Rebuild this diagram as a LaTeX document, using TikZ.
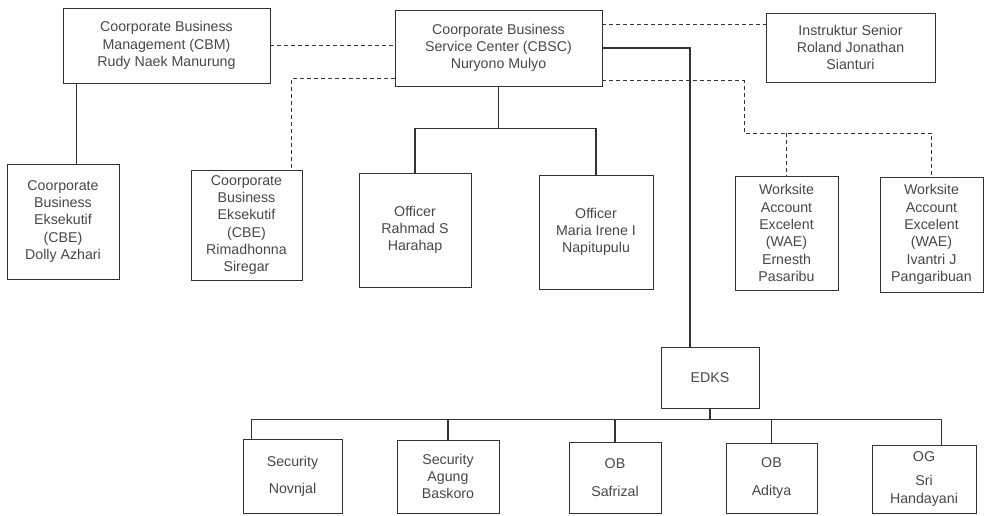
\documentclass[tikz,border=0pt]{standalone}
\usepackage{fontspec}
\setmainfont{Liberation Sans}
\usetikzlibrary{positioning,calc}
\colorlet{inkgray}{black!72}
\colorlet{linegray}{black!80}
\newcommand{\orgfont}{\fontsize{14.2}{17.3}\selectfont}
\tikzstyle{box}=[draw=linegray,line width=.8pt,rectangle,align=center,inner sep=2pt,font=\orgfont,text=inkgray]
\tikzstyle{solidline}=[draw=linegray,line width=1.3pt]
\tikzstyle{dashline}=[draw=linegray,line width=.9pt,dash pattern=on 4pt off 3pt]

\begin{document}
\begin{tikzpicture}[x=1pt,y=-1pt]
  \useasboundingbox (0,0) rectangle (986,515);

  \node[box, minimum width=207pt, minimum height=75pt] (cbm) at (166.5,45.5)
    {Coorporate Business\\Management (CBM)\\Rudy Naek Manurung};
  \node[box, minimum width=207pt, minimum height=76pt] (cbsc) at (498.5,48)
    {Coorporate Business\\Service Center (CBSC)\\Nuryono Mulyo};
  \node[box, minimum width=169pt, minimum height=69pt] (ins) at (850.5,47.5)
    {Instruktur Senior\\Roland Jonathan\\Sianturi};

  \node[box, minimum width=112pt, minimum height=115pt] (cbe1) at (63,221.5)
    {Coorporate\\Business\\Eksekutif\\(CBE)\\Dolly Azhari};
  \node[box, minimum width=111pt, minimum height=110pt] (cbe2) at (246.5,225)
    {Coorporate\\Business\\Eksekutif\\(CBE)\\Rimadhonna\\Siregar};
  \node[box, minimum width=112pt, minimum height=114pt] (off1) at (415,230)
    {Officer\\Rahmad S\\Harahap};
  \node[box, minimum width=114pt, minimum height=114pt] (off2) at (596,232)
    {Officer\\Maria Irene I\\Napitupulu};
  \node[box, minimum width=103pt, minimum height=114pt] (wae1) at (786.5,233)
    {Worksite\\Account\\Excelent\\(WAE)\\Ernesth\\Pasaribu};
  \node[box, minimum width=103pt, minimum height=115pt] (wae2) at (931.5,234.5)
    {Worksite\\Account\\Excelent\\(WAE)\\Ivantri J\\Pangaribuan};

  \node[box, minimum width=98pt, minimum height=61pt] (edks) at (710,377.5) {EDKS};

  \node[box, minimum width=99pt, minimum height=74pt] (sec1) at (292.5,476)
    {Security\\[10pt]Novnjal};
  \node[box, minimum width=102pt, minimum height=73pt] (sec2) at (448,476.5)
    {Security\\Agung\\Baskoro};
  \node[box, minimum width=92pt, minimum height=71pt] (ob1) at (615,477.5)
    {OB\\[10pt]Safrizal};
  \node[box, minimum width=91pt, minimum height=70pt] (ob2) at (771.5,478)
    {OB\\[10pt]Aditya};
  \node[box, minimum width=104pt, minimum height=68pt] (og) at (924,479)
    {OG\\[7pt]Sri\\Handayani};

  \coordinate (d1) at ([yshift=-15pt]cbsc.north east);
  \coordinate (d2) at ([yshift=8pt]cbsc.south west);
  \coordinate (d3) at ([yshift=6pt]cbsc.south east);
  \coordinate (w1) at (744,133);
  \coordinate (c1) at ([xshift=14pt]cbm.south west);
  \coordinate (e1) at ([xshift=-20pt]edks.north);
  \coordinate (bus1) at ($(cbsc.south)+(0,42)$);
  \coordinate (bus2) at ($(edks.south)+(0,11)$);

  \draw[dashline] (cbm.east) -- (cbm.east -| cbsc.west);
  \draw[dashline] (d1) -- (d1 -| ins.west);
  \draw[dashline] (d2) -| ([xshift=-11pt]cbe2.north east);
  \draw[dashline] (d3) -| (w1) -- (w1 -| wae2.north) -- (wae2.north);
  \draw[dashline] (w1 -| wae1.north) -- (wae1.north);

  \draw[solidline] (c1) -- (c1 |- cbe1.north);
  \draw[solidline] (cbsc.south) -- (bus1);
  \draw[solidline] (off1.north) |- (bus1) -| (off2.north);
  \draw[solidline] (cbsc.east) -| (e1);

  \draw[solidline] (edks.south) -- (bus2);
  \draw[solidline] ([xshift=9pt]sec1.north west) |- (bus2) -| ([xshift=-35pt]og.north east);
  \draw[solidline] (sec2.north) -- (sec2.north |- bus2);
  \draw[solidline] (ob1.north) -- (ob1.north |- bus2);
  \draw[solidline] (ob2.north) -- (ob2.north |- bus2);
\end{tikzpicture}
\end{document}
